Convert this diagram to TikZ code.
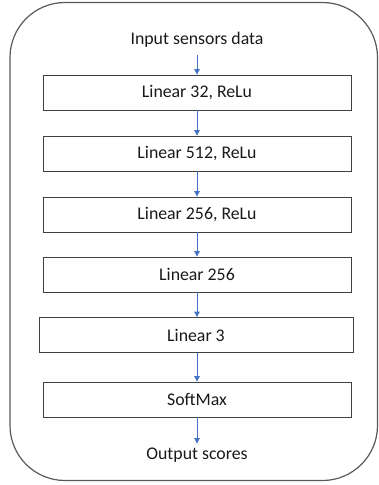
\documentclass[tikz,border=0pt]{standalone}
\usepackage{fontspec}
\setmainfont{Carlito}
\usetikzlibrary{arrows.meta}
\definecolor{arrowblue}{HTML}{4472C4}
\definecolor{framegray}{HTML}{595959}
\definecolor{boxgray}{HTML}{404040}
\begin{document}
\begin{tikzpicture}[x=1pt,y=-1pt,
  layer/.style={draw=boxgray,line width=0.8pt,minimum width=308pt,minimum height=35pt,inner sep=0pt,font=\fontsize{17.8}{20}\selectfont,text=black!90},
  label/.style={font=\fontsize{17.8}{20}\selectfont,text=black!90,inner sep=0pt},
  flow/.style={draw=arrowblue,line width=0.8pt,-{Triangle[length=5.5pt,width=5.5pt]}}]
\useasboundingbox (0,0) rectangle (379,485);
% outer frame
\draw[framegray,line width=1.2pt,rounded corners=55pt] (10,2.5) rectangle (377.5,480.5);
% network layers
\node[label] (in) at (197,40) {Input sensors data};
\node[layer] (l1) at (197,92.5) {Linear 32, ReLu};
\node[layer] (l2) at (197,153.5) {Linear 512, ReLu};
\node[layer] (l3) at (197,214.5) {Linear 256, ReLu};
\node[layer] (l4) at (197,274.5) {Linear 256};
\node[layer,minimum width=314pt] (l5) at (196,335) {Linear 3};
\node[layer] (l6) at (197,399.5) {SoftMax};
\node[label] (out) at (197,455) {Output scores};
% connectors
\draw[flow] ([yshift=-7pt]in.south -| l1.north) -- (l1.north);
\draw[flow] (l1.south) -- (l2.north);
\draw[flow] (l2.south) -- (l3.north);
\draw[flow] (l3.south) -- (l4.north);
\draw[flow] (l4.south) -- (l4.south |- l5.north);
\draw[flow] (l5.south -| l6.north) -- (l6.north);
\draw[flow] (l6.south) -- ([yshift=4pt]out.north -| l6.south);
\end{tikzpicture}
\end{document}
